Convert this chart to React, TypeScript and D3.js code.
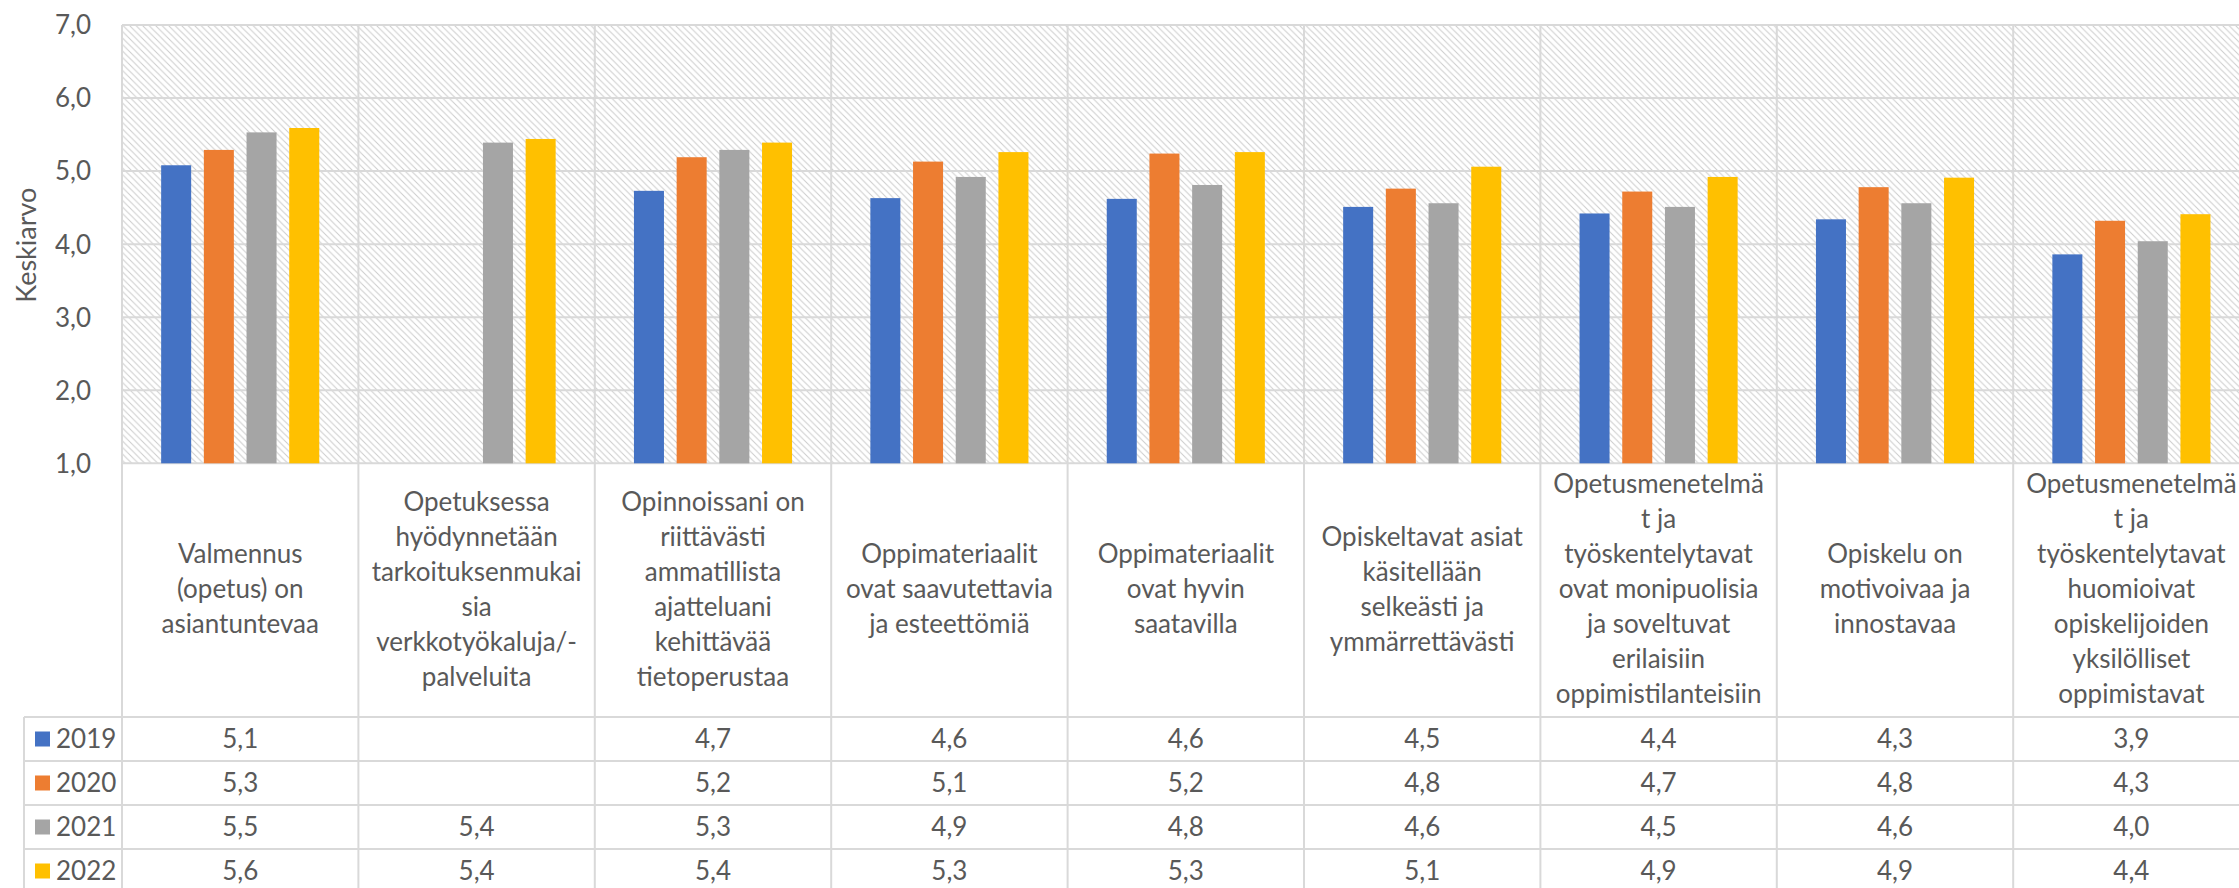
import React from "react";
import * as d3 from "d3";

// categories (label lines as wrapped in the original chart)
const categories: string[][] = [
  ["Valmennus", "(opetus) on", "asiantuntevaa"],
  ["Opetuksessa", "hyödynnetään", "tarkoituksenmukai", "sia", "verkkotyökaluja/-", "palveluita"],
  ["Opinnoissani on", "riittävästi", "ammatillista", "ajatteluani", "kehittävää", "tietoperustaa"],
  ["Oppimateriaalit", "ovat saavutettavia", "ja esteettömiä"],
  ["Oppimateriaalit", "ovat hyvin", "saatavilla"],
  ["Opiskeltavat asiat", "käsitellään", "selkeästi ja", "ymmärrettävästi"],
  ["Opetusmenetelmä", "t ja", "työskentelytavat", "ovat monipuolisia", "ja soveltuvat", "erilaisiin", "oppimistilanteisiin"],
  ["Opiskelu on", "motivoivaa ja", "innostavaa"],
  ["Opetusmenetelmä", "t ja", "työskentelytavat", "huomioivat", "opiskelijoiden", "yksilölliset", "oppimistavat"],
];

const years = ["2019", "2020", "2021", "2022"];
const colors = ["#4472c4", "#ed7d31", "#a5a5a5", "#ffc000"];

const v2019 = [5.08, null, 4.73, 4.63, 4.62, 4.51, 4.42, 4.34, 3.86];
const v2020 = [5.29, null, 5.19, 5.13, 5.24, 4.76, 4.72, 4.78, 4.32];
const v2021 = [5.53, 5.39, 5.29, 4.92, 4.81, 4.56, 4.51, 4.56, 4.04];
const v2022 = [5.59, 5.44, 5.39, 5.26, 5.26, 5.06, 4.92, 4.91, 4.41];
const series = [v2019, v2020, v2021, v2022];

const yTicks = [1, 2, 3, 4, 5, 6, 7];

const fi = d3.formatLocale({ decimal: ",", thousands: " ", grouping: [3], currency: ["", "€"] });
const fmt = fi.format(".1f");

export default function App() {
  const W = 2239, H = 888;
  const left = 122, right = 2249.6, top = 25, bottom = 463.3;
  const tableTop = 717, rowH = 44;
  const tableLeft = 24;
  const grid = "#d9d9d9";
  const txt = "#595959";
  const font = "Lato, 'Open Sans', sans-serif";

  const x = d3.scaleBand<number>().domain(d3.range(categories.length)).range([left, right]);
  const xi = d3.scaleBand<number>().domain(d3.range(years.length)).range([0, x.bandwidth()])
    .paddingInner(0.297).paddingOuter(0.917);
  const y = d3.scaleLinear().domain([1, 7]).range([bottom, top]);

  const bounds = d3.range(categories.length + 1).map((i) => left + i * x.step());
  const rowLines = d3.range(years.length + 1).map((i) => tableTop + i * rowH);

  return (
    <>
      <style>{`body{margin:0}`}</style>
      <svg width={W} height={H} style={{ display: "block", fontFamily: font }}>
        <defs>
          <pattern id="hatch" patternUnits="userSpaceOnUse" width="6.5" height="6.5">
            <path d="M-1,-1 L7.5,7.5 M-1,5.5 L1,7.5 M5.5,-1 L7.5,1" stroke="#cccccc" strokeWidth="1" />
          </pattern>
        </defs>
        <rect x={0} y={0} width={W} height={H} fill="#fff" />
        <rect x={left} y={top} width={right - left} height={bottom - top} fill="url(#hatch)" />

        {/* horizontal gridlines */}
        {yTicks.map((t) => (
          <line key={t} x1={left} x2={right} y1={y(t)} y2={y(t)} stroke={grid} strokeWidth={2} />
        ))}
        {/* vertical category lines */}
        {bounds.map((b, i) => (
          <line key={i} x1={b} x2={b} y1={top} y2={rowLines[rowLines.length - 1]} stroke={grid} strokeWidth={2} />
        ))}
        {/* table lines */}
        {rowLines.map((r, i) => (
          <line key={i} x1={tableLeft} x2={right} y1={r} y2={r} stroke={grid} strokeWidth={2} />
        ))}
        <line x1={tableLeft} x2={tableLeft} y1={tableTop} y2={rowLines[rowLines.length - 1]} stroke={grid} strokeWidth={2} />

        {/* bars */}
        {series.map((vals, s) =>
          vals.map((v, c) =>
            v == null ? null : (
              <rect key={s + "-" + c} x={(x(c) as number) + (xi(s) as number)} y={y(v)}
                width={xi.bandwidth()} height={y(1) - y(v)} fill={colors[s]} />
            )
          )
        )}

        {/* y axis */}
        {yTicks.map((t) => (
          <text key={t} x={91} y={y(t)} dy="0.36em" textAnchor="end" fontSize={26} fill={txt}>{fmt(t)}</text>
        ))}
        <text transform={`translate(36,${(top + bottom) / 2 + 1}) rotate(-90)`} textAnchor="middle" fontSize={27} fill={txt}>Keskiarvo</text>

        {/* category labels */}
        {categories.map((lines, c) => (
          <text key={c} textAnchor="middle" fontSize={26} fill={txt}>
            {lines.map((l, i) => (
              <tspan key={i} x={(x(c) as number) + x.bandwidth() / 2} y={598 + (i - (lines.length - 1) / 2) * 35}>{l}</tspan>
            ))}
          </text>
        ))}

        {/* data table */}
        {years.map((yr, s) => (
          <g key={yr}>
            <rect x={35} y={tableTop + s * rowH + 14.5} width={15} height={15} fill={colors[s]} />
            <text x={56} y={tableTop + s * rowH + 31} fontSize={26} fill={txt}>{yr}</text>
            {series[s].map((v, c) =>
              v == null ? null : (
                <text key={c} x={(x(c) as number) + x.bandwidth() / 2} y={tableTop + s * rowH + 31}
                  textAnchor="middle" fontSize={26} fill={txt}>{fmt(v)}</text>
              )
            )}
          </g>
        ))}
      </svg>
    </>
  );
}
